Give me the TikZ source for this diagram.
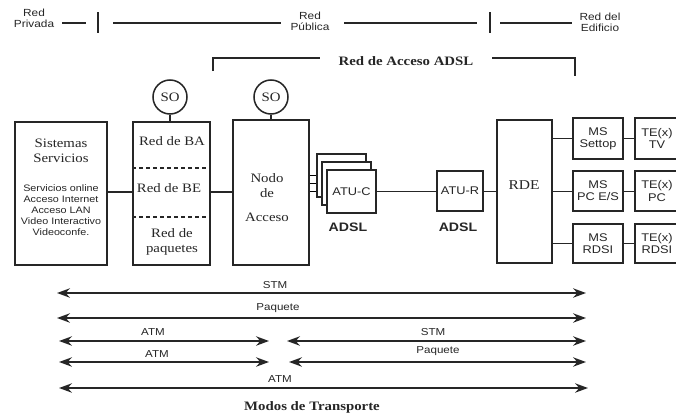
\documentclass[tikz,border=0pt]{standalone}
\usepackage{fontspec}
\setmainfont{Liberation Serif}[FakeStretch=1.15]
\setsansfont{Liberation Sans}[FakeStretch=1.15]
\usetikzlibrary{arrows.meta}
\pgfdeclarelayer{bg}
\pgfsetlayers{bg,main}
\newcommand\pxl{0.03cm}
\newcommand\fsmall{\sffamily\fontsize{8.8}{9.6}\selectfont}
\newcommand\flab{\sffamily\fontsize{8.6}{10}\selectfont}
\newcommand\flist{\sffamily\fontsize{8}{9.3}\selectfont}
\newcommand\fboxt{\rmfamily\fontsize{11}{13}\selectfont}
\newcommand\fms{\sffamily\fontsize{9.5}{10.5}\selectfont}
\newcommand\fbold{\rmfamily\bfseries\fontsize{11}{12}\selectfont}
\newcommand\fadsl{\sffamily\bfseries\fontsize{10.5}{12}\selectfont}
\begin{document}
\begin{tikzpicture}[x=0.03cm,y=-0.03cm,line width=1.2pt,color=black!85,
  box/.style={draw,fill=white,inner sep=0pt,line width=1.4pt},
  sonode/.style={draw,circle,fill=white,minimum size=34*\pxl,inner sep=0pt,line width=1.3pt,font=\fboxt},
  txt/.style={inner sep=0pt,align=center},
  arr/.style={{Stealth[length=11pt,width=8pt]}-{Stealth[length=11pt,width=8pt]},line width=1.3pt},
  lab/.style={inner sep=0pt,font=\flab}]
\useasboundingbox (0,0) rectangle (676,417);
\clip (0,0) rectangle (676,417);

% ---------- header ----------
\node[txt,font=\fsmall] (priv) at (34,18) {Red\\Privada};
\node[txt,font=\fsmall] (pub) at (310,21) {Red\\Pública};
\node[txt,font=\fsmall] (edif) at (600,22) {Red del\\Edificio};
\coordinate (h1a) at (62,23); \coordinate (h1b) at (86,23);
\coordinate (t1a) at (98,12); \coordinate (t1b) at (98,33);
\coordinate (h2a) at (113,23); \coordinate (h2b) at (281,23);
\coordinate (h3a) at (344,23); \coordinate (h3b) at (477,23);
\coordinate (t2a) at (490,12); \coordinate (t2b) at (490,33);
\coordinate (h4a) at (500,23); \coordinate (h4b) at (572,23);
\draw (h1a) -- (h1b);
\draw[line width=1.5pt] (t1a) -- (t1b);
\draw (h2a) -- (h2b);
\draw (h3a) -- (h3b);
\draw[line width=1.5pt] (t2a) -- (t2b);
\draw (h4a) -- (h4b);

\node[txt,font=\fbold] (acc) at (406,61) {Red de Acceso ADSL};
\coordinate (b1a) at (213,71); \coordinate (b1b) at (213,58); \coordinate (b1c) at (320,58);
\coordinate (b2a) at (492,58); \coordinate (b2b) at (575,58); \coordinate (b2c) at (575,76);
\draw (b1a) -- (b1b) -- (b1c);
\draw (b2a) -- (b2b) -- (b2c);

% ---------- boxes ----------
\node[box,minimum width=92*\pxl,minimum height=143*\pxl] (sis) at (61,193.5) {};
\node[txt,font=\fboxt] (sist) at (61,150.5) {Sistemas\\Servicios};
\node[txt,font=\flist] (sisl) at (61,210) {Servicios online\\Acceso Internet\\Acceso LAN\\Video Interactivo\\Videoconfe.};

\node[box,minimum width=77*\pxl,minimum height=143*\pxl] (ba) at (171.5,193.5) {};
\draw[dash pattern=on 3pt off 3pt] (ba.west |- 0,168) -- (ba.east |- 0,168);
\draw[dash pattern=on 3pt off 3pt] (ba.west |- 0,217) -- (ba.east |- 0,217);
\node[txt,font=\fboxt] (rba) at (172,141) {Red de BA};
\node[txt,font=\fboxt] (rbe) at (169,188) {Red de BE};
\node[txt,font=\fboxt] (rpq) at (172,242) {Red de\\paquetes};
\node[sonode] (so1) at (170,97) {SO};

\node[box,minimum width=76*\pxl,minimum height=145*\pxl] (nodo) at (271,192.5) {};
\node[txt,font=\fboxt] (n1) at (267,178) {Nodo};
\node[txt,font=\fboxt] (n2) at (267,193) {de};
\node[txt,font=\fboxt] (n3) at (267,217) {Acceso};
\node[sonode] (so2) at (271,97) {SO};

\node[box,minimum width=49*\pxl,minimum height=43*\pxl] (atuc3) at (341.5,175.5) {};
\node[box,minimum width=49*\pxl,minimum height=43*\pxl] (atuc2) at (346.5,183.5) {};
\node[box,minimum width=49*\pxl,minimum height=43*\pxl,font=\fms] (atuc) at (351.5,191.5) {ATU-C};
\node[txt,font=\fadsl] (adsl1) at (348,227) {ADSL};

\node[box,minimum width=46*\pxl,minimum height=40*\pxl,font=\fms] (atur) at (460,191) {ATU-R};
\node[txt,font=\fadsl] (adsl2) at (458,227) {ADSL};

\node[box,minimum width=55*\pxl,minimum height=143*\pxl] (rde) at (524.5,191.5) {};
\node[txt,font=\rmfamily\fontsize{11.5}{13}\selectfont] (rdet) at (524,185) {RDE};

\node[box,minimum width=50*\pxl,minimum height=41*\pxl,font=\fms,align=center] (ms1) at (598,138.5) {MS\\Settop};
\node[box,minimum width=50*\pxl,minimum height=40*\pxl,font=\fms,align=center] (ms2) at (598,191) {MS\\PC E/S};
\node[box,minimum width=50*\pxl,minimum height=39*\pxl,font=\fms,align=center] (ms3) at (598,243.5) {MS\\RDSI};

\node[box,minimum width=52*\pxl,minimum height=41*\pxl] (te1) at (661,138.5) {};
\node[box,minimum width=52*\pxl,minimum height=40*\pxl] (te2) at (661,191) {};
\node[box,minimum width=52*\pxl,minimum height=39*\pxl] (te3) at (661,243.5) {};
\node[txt,font=\fms] (te1t) at (657,138.5) {TE(x)\\TV};
\node[txt,font=\fms] (te2t) at (657,191) {TE(x)\\PC};
\node[txt,font=\fms] (te3t) at (657,243.5) {TE(x)\\RDSI};

% ---------- connectors ----------
\draw (sis.east |- 0,192) -- (ba.west |- 0,192);
\draw (so1.south) -- (so1.south |- ba.north);
\draw (ba.east |- 0,192) -- (nodo.west |- 0,192);
\draw (so2.south) -- (so2.south |- nodo.north);
\begin{pgfonlayer}{bg}
\draw (nodo.east |- atuc3.west) -- (atuc3.west);
\draw (nodo.east |- atuc2.west) -- (atuc2.west);
\draw (nodo.east |- atuc.west) -- (atuc.west);
\end{pgfonlayer}
\draw (atuc.east) -- (atuc.east -| atur.west);
\draw (atur.east) -- (atur.east -| rde.west);
\draw (rde.east |- ms1.west) -- (ms1.west);
\draw (rde.east |- ms2.west) -- (ms2.west);
\draw (rde.east |- ms3.west) -- (ms3.west);
\draw (ms1.east) -- (te1.west);
\draw (ms2.east) -- (te2.west);
\draw (ms3.east) -- (te3.west);

% ---------- transport modes ----------
\coordinate (a1l) at (57,293); \coordinate (a1r) at (586,293);
\coordinate (a2l) at (57,318); \coordinate (a2r) at (586,318);
\coordinate (a3l) at (59,341); \coordinate (a3r) at (269,341);
\coordinate (a3m) at (287,341); \coordinate (a3e) at (586,341);
\coordinate (a4l) at (59,362); \coordinate (a4r) at (269,362);
\coordinate (a4m) at (289,362); \coordinate (a4e) at (586,362);
\coordinate (a5l) at (59,388); \coordinate (a5r) at (588,388);
\draw[arr] (a1l) -- (a1r);
\draw[arr] (a2l) -- (a2r);
\draw[arr] (a3l) -- (a3r);
\draw[arr] (a3m) -- (a3e);
\draw[arr] (a4l) -- (a4r);
\draw[arr] (a4m) -- (a4e);
\draw[arr] (a5l) -- (a5r);
\node[lab] (l1) at (275,285) {STM};
\node[lab] (l2) at (278,308) {Paquete};
\node[lab] (l3) at (153,332) {ATM};
\node[lab] (l4) at (433,332) {STM};
\node[lab] (l5) at (157,354) {ATM};
\node[lab] (l6) at (438,351) {Paquete};
\node[lab] (l7) at (280,379) {ATM};
\node[txt,font=\fbold] (modos) at (312,407) {Modos de Transporte};
\end{tikzpicture}
\end{document}
